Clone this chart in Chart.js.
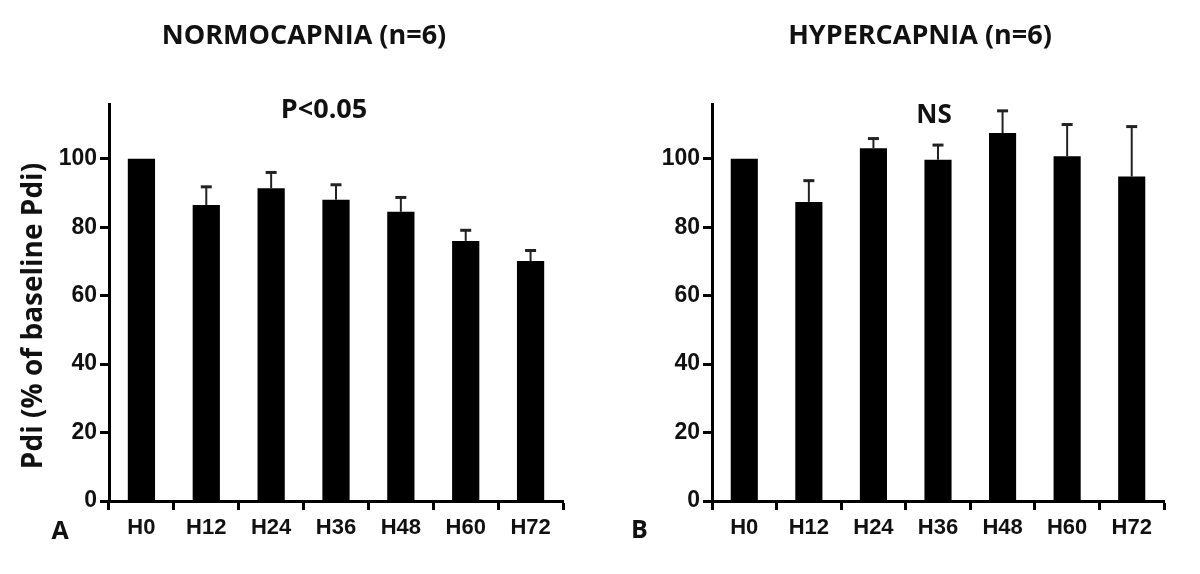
<!DOCTYPE html>
<html>
<head>
<meta charset="utf-8">
<script src="https://cdn.jsdelivr.net/npm/chart.js@4"></script>
<style>
body{margin:0;background:#fff;width:1200px;height:574px;overflow:hidden}
canvas{position:absolute;top:0}
#chartA{left:0}
#chartB{left:600px}
</style>
</head>
<body>
<canvas id="chartA" width="600" height="574"></canvas>
<canvas id="chartB" width="600" height="574"></canvas>
<script>
// donnees (Pdi en % de la valeur de base, moyenne + erreur)
var hours=["H0","H12","H24","H36","H48","H60","H72"]
var yTicks=[0,20,40,60,80,100]
var yMax=116

var normo=[100,86.5,91.4,88,84.5,76,70.1]
var normoErr=[0,5.3,4.6,4.4,4.2,3.1,3.1]

var hyper=[100,87.4,103.1,99.7,107.5,100.7,94.8]
var hyperErr=[0,6.2,2.8,4.3,6.5,9.3,14.6]

var ink='#111'
var tickFont={family:"'Liberation Sans', Arial, sans-serif",weight:'bold'}
var textFont="'Open Sans', sans-serif"

const errorBars={   // barre d'erreur au dessus de chaque colonne
    id:'errorBars',
    afterDatasetsDraw:(chart,args,opts)=>{
        const ctx=chart.ctx
        const meta=chart.getDatasetMeta(0)
        const y=chart.scales.y
        const vals=chart.data.datasets[0].data
        ctx.save()
        ctx.strokeStyle='#222'
        meta.data.forEach((bar,i)=>{
            const e=opts.err[i]
            if(!e) return
            const top=y.getPixelForValue(vals[i]+e)
            ctx.lineWidth=2
            ctx.beginPath();ctx.moveTo(bar.x,bar.y);ctx.lineTo(bar.x,top);ctx.stroke()
            ctx.lineWidth=3
            ctx.beginPath();ctx.moveTo(bar.x-5.5,top);ctx.lineTo(bar.x+5.5,top);ctx.stroke()
        })
        ctx.restore()
    }
}

const panelText={   // titres, lettre du panneau, titre de l'axe
    id:'panelText',
    afterDraw:(chart,args,opts)=>{
        const ctx=chart.ctx
        ctx.save()
        ctx.fillStyle=ink
        ctx.textAlign='center'
        ctx.textBaseline='alphabetic'
        opts.items.forEach(t=>{
            ctx.save()
            ctx.font='bold '+t.size+'px '+textFont
            ctx.translate(t.x,t.y)
            if(t.rot) ctx.rotate(t.rot)
            ctx.fillText(t.text,0,0)
            ctx.restore()
        })
        ctx.restore()
    }
}

function makeChart(id,values,err,yWidth,padRight,items){
    return new Chart(document.getElementById(id),{
        type:'bar',
        data:{
            labels:hours,
            datasets:[{
                data:values,
                backgroundColor:'#000',
                borderWidth:0,
                barPercentage:0.42,
                categoryPercentage:1
            }]
        },
        options:{
            responsive:false,
            animation:false,
            layout:{padding:{top:104,right:padRight,bottom:0,left:0}},
            plugins:{
                legend:{display:false},
                tooltip:{enabled:false},
                errorBars:{err:err},
                panelText:{items:items}
            },
            scales:{
                x:{
                    afterFit:(s)=>{s.height=73},
                    grid:{display:true,offset:true,drawOnChartArea:false,drawTicks:true,tickLength:9,tickWidth:3,tickColor:'#000',color:'#000'},
                    border:{display:true,color:'#000',width:3},
                    ticks:{color:ink,padding:5,font:{...tickFont,size:22}}
                },
                y:{
                    min:0,
                    max:yMax,
                    afterFit:(s)=>{s.width=yWidth},
                    afterBuildTicks:(s)=>{s.ticks=yTicks.map(v=>({value:v}))},
                    grid:{display:true,drawOnChartArea:false,drawTicks:true,tickLength:9,tickWidth:3,tickColor:'#000',color:'#000'},
                    border:{display:true,color:'#000',width:3},
                    ticks:{color:ink,padding:3,font:{...tickFont,size:23}}
                }
            }
        },
        plugins:[errorBars,panelText]
    })
}

var chartA=makeChart('chartA',normo,normoErr,109,37,[
    {text:'NORMOCAPNIA (n=6)',x:304,y:44,size:27},
    {text:'P<0.05',x:324,y:118,size:27},
    {text:'A',x:60,y:539,size:25},
    {text:'Pdi (% of baseline Pdi)',x:42,y:316,size:28,rot:-Math.PI/2}
])

var chartB=makeChart('chartB',hyper,hyperErr,112,36,[
    {text:'HYPERCAPNIA (n=6)',x:320,y:44,size:27},
    {text:'NS',x:334,y:123,size:26},
    {text:'B',x:39.5,y:538,size:25}
])
</script>
</body>
</html>
